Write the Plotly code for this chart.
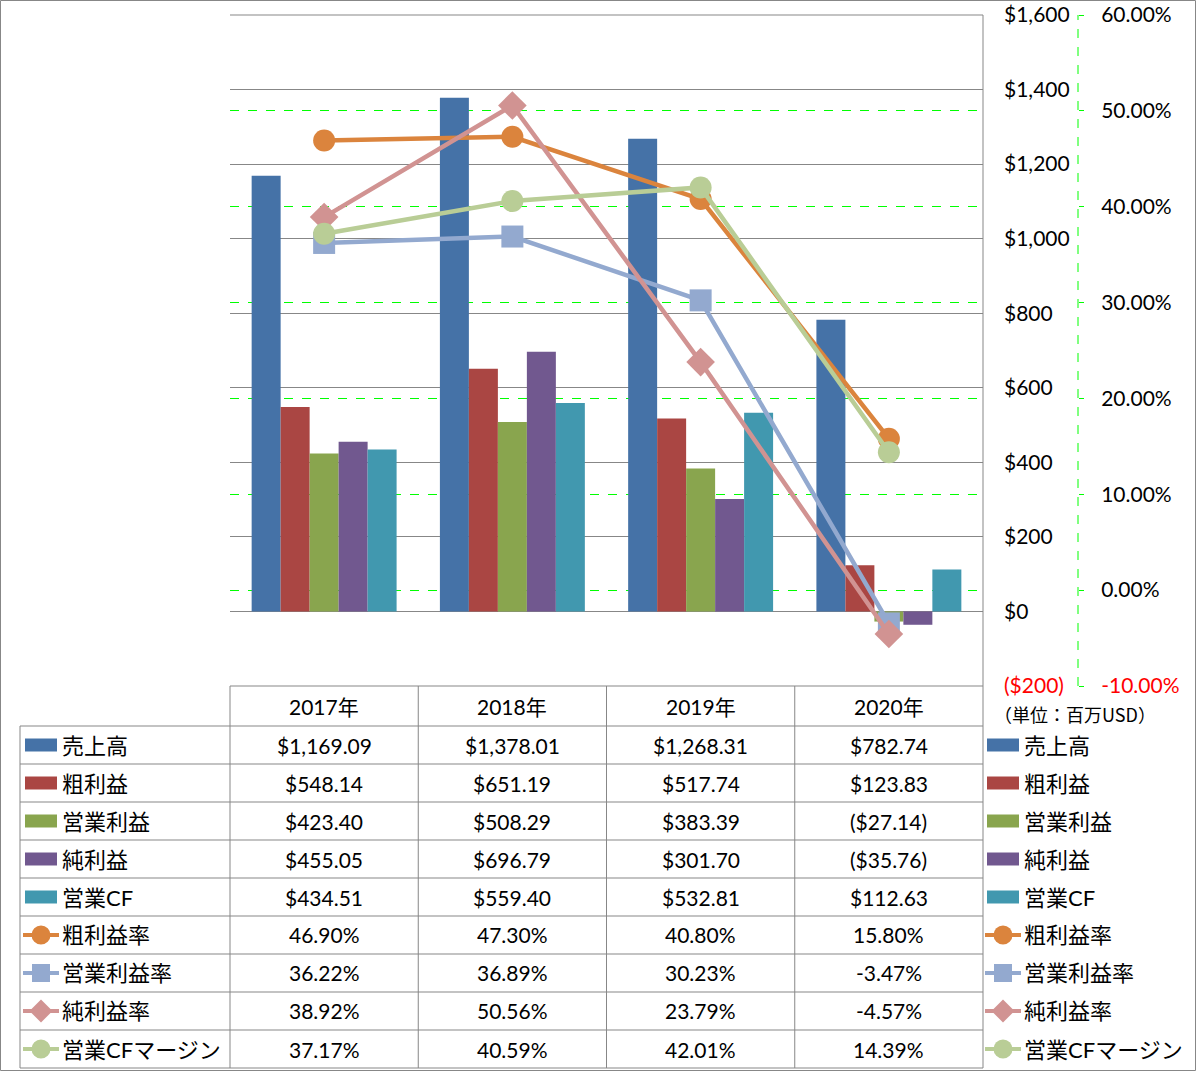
import plotly.graph_objects as go

# ---------------- data ----------------
years = ["2017年", "2018年", "2019年", "2020年"]

bar_names = ["売上高", "粗利益", "営業利益", "純利益", "営業CF"]
sales = [1169.09, 1378.01, 1268.31, 782.74]
gross_profit = [548.14, 651.19, 517.74, 123.83]
operating_income = [423.40, 508.29, 383.39, -27.14]
net_income = [455.05, 696.79, 301.70, -35.76]
operating_cf = [434.51, 559.40, 532.81, 112.63]

line_names = ["粗利益率", "営業利益率", "純利益率", "営業CFマージン"]
gross_margin = [46.90, 47.30, 40.80, 15.80]
operating_margin = [36.22, 36.89, 30.23, -3.47]
net_margin = [38.92, 50.56, 23.79, -4.57]
cf_margin = [37.17, 40.59, 42.01, 14.39]

usd_ticks = [-200, 0, 200, 400, 600, 800, 1000, 1200, 1400, 1600]
pct_ticks = [-10, 0, 10, 20, 30, 40, 50, 60]
unit_label = "（単位：百万USD）"

bar_series = [sales, gross_profit, operating_income, net_income, operating_cf]
line_series = [gross_margin, operating_margin, net_margin, cf_margin]

# ---------------- style ----------------
bar_colors = ["#4572A7", "#AA4643", "#89A54E", "#71588F", "#4198AF"]
line_colors = ["#DB843D", "#93A9CF", "#D19392", "#B9CD96"]
line_symbols = ["circle", "square", "diamond", "circle"]
GRID = "#878787"
GREEN = "#00FF00"
LAT = "Lato, 'Noto Sans CJK JP', sans-serif"
JP = "'Noto Sans CJK JP', sans-serif"

W, H = 1196, 1071
L, R, T, B = 230, 118, 15, 385
PW, PH = W - L - R, H - T - B
PLOT_RIGHT = 983
XDOM = (PLOT_RIGHT - L) / PW


def X(px):
    return (px - L) / PW


def Y(py):
    return (H - B - py) / PH


def fmt_usd(v):
    s = f"${abs(v):,.2f}"
    return f"({s})" if v < 0 else s


def fmt_pct(v):
    return f"{v:.2f}%"


def usd_tick(v):
    s = f"${abs(v):,}"
    return f'<span style="color:#FF0000">({s})</span>' if v < 0 else s


def pct_tick(v):
    s = f"{v:.2f}%"
    return f'<span style="color:#FF0000">{s}</span>' if v < 0 else s


fig = go.Figure()

for name, vals, col in zip(bar_names, bar_series, bar_colors):
    fig.add_trace(go.Bar(x=years, y=vals, name=name, marker=dict(color=col, line=dict(width=0)),
                         yaxis="y", showlegend=False))

for name, vals, col, sym in zip(line_names, line_series, line_colors, line_symbols):
    fig.add_trace(go.Scatter(x=years, y=vals, name=name, mode="lines+markers", yaxis="y2",
                             line=dict(color=col, width=4.5),
                             marker=dict(symbol=sym, size=22, color=col, line=dict(width=0)),
                             showlegend=False))

shapes = []
annotations = []


def hline(y, x0, x1, color=GRID, dash=None):
    ln = dict(color=color, width=1)
    if dash:
        ln["dash"] = dash
    shapes.append(dict(type="line", xref="paper", yref="paper", x0=x0, x1=x1, y0=y, y1=y, line=ln))


def vline(x, y0, y1, color=GRID, dash=None):
    ln = dict(color=color, width=1)
    if dash:
        ln["dash"] = dash
    shapes.append(dict(type="line", xref="paper", yref="paper", x0=x, x1=x, y0=y0, y1=y1, line=ln))


# outer border
shapes.append(dict(type="rect", xref="paper", yref="paper", x0=X(0.5), x1=X(1195.5), y0=Y(0.5), y1=Y(1070.5),
                   line=dict(color=GRID, width=1)))
# top and right plot border
hline(1, 0, XDOM)
header_top, header_bot = 686, 726
row_h = 38
n_rows = len(bar_names) + len(line_names)
row_lines = [header_bot + i * row_h for i in range(n_rows + 1)]
vline(XDOM, 1, Y(row_lines[-1]))
# secondary axis line (dashed green)
vline(1, 0, 1, color=GREEN, dash="dash")

# table grid
hline(Y(header_top), 0, XDOM)
for yl in row_lines:
    hline(Y(yl), X(20), XDOM)
vline(X(20), Y(header_bot), Y(row_lines[-1]))
ncat = len(years)
for k in range(ncat):
    vline(XDOM * k / ncat, Y(header_top), Y(row_lines[-1]))

# header
for k, yr in enumerate(years):
    annotations.append(dict(x=k, xref="x", y=Y((header_top + header_bot) / 2), yref="paper", text=yr,
                            showarrow=False, xanchor="center", yanchor="middle",
                            font=dict(family=LAT, size=21, color="#000")))

# rows
all_names = bar_names + line_names
all_vals = bar_series + line_series
for i, (name, vals) in enumerate(zip(all_names, all_vals)):
    cy = header_bot + row_h * i + row_h / 2
    fmt = fmt_usd if i < len(bar_names) else fmt_pct
    for k, v in enumerate(vals):
        annotations.append(dict(x=k, xref="x", y=Y(cy), yref="paper", text=fmt(v), showarrow=False,
                                xanchor="center", yanchor="middle", font=dict(family=LAT, size=21, color="#000")))
    for lx, tx in ((25, 60), (987, 1022)):
        annotations.append(dict(x=X(tx), xref="paper", y=Y(cy), yref="paper", text=name, showarrow=False,
                                xanchor="left", yanchor="middle", font=dict(family=LAT, size=22, color="#000")))
        if i < len(bar_names):
            shapes.append(dict(type="rect", xref="paper", yref="paper", x0=X(lx), x1=X(lx + 32),
                               y0=Y(cy - 6.5), y1=Y(cy + 6.5), fillcolor=bar_colors[i], line=dict(width=0)))
        else:
            j = i - len(bar_names)
            col = line_colors[j]
            x0 = lx - 2
            x1 = lx + 34
            mx = (x0 + x1) / 2
            shapes.append(dict(type="line", xref="paper", yref="paper", x0=X(x0), x1=X(x1), y0=Y(cy), y1=Y(cy),
                               line=dict(color=col, width=4)))
            sym = line_symbols[j]
            if sym == "circle":
                shapes.append(dict(type="circle", xref="paper", yref="paper", x0=X(mx - 9.5), x1=X(mx + 9.5),
                                   y0=Y(cy - 9.5), y1=Y(cy + 9.5), fillcolor=col, line=dict(width=0)))
            elif sym == "square":
                shapes.append(dict(type="rect", xref="paper", yref="paper", x0=X(mx - 9), x1=X(mx + 9),
                                   y0=Y(cy - 9), y1=Y(cy + 9), fillcolor=col, line=dict(width=0)))
            else:
                d = 11.5
                path = (f"M {X(mx)} {Y(cy - d)} L {X(mx + d)} {Y(cy)} L {X(mx)} {Y(cy + d)} "
                        f"L {X(mx - d)} {Y(cy)} Z")
                shapes.append(dict(type="path", xref="paper", yref="paper", path=path, fillcolor=col,
                                   line=dict(width=0)))

annotations.append(dict(x=X(1075), xref="paper", y=Y(714), yref="paper", text=unit_label, showarrow=False,
                        xanchor="center", yanchor="middle", font=dict(family=JP, size=18, color="#000")))

fig.update_layout(
    width=W, height=H,
    margin=dict(l=L, r=R, t=T, b=B, pad=0, autoexpand=False),
    paper_bgcolor="white", plot_bgcolor="white",
    barmode="group", bargap=0.23, bargroupgap=0,
    showlegend=False,
    font=dict(family=LAT, size=21, color="#000"),
    xaxis=dict(domain=[0, XDOM], range=[-0.5, len(years) - 0.5], visible=False, showticklabels=False, ticks="",
               showgrid=False, zeroline=False, showline=False, fixedrange=True, automargin=False),
    yaxis=dict(range=[usd_ticks[0], usd_ticks[-1]], side="right", anchor="x", automargin=False,
               tickmode="array", tickvals=usd_ticks, ticktext=[usd_tick(v) for v in usd_ticks],
               showgrid=True, gridcolor=GRID, gridwidth=1, zeroline=True, zerolinecolor=GRID, zerolinewidth=1,
               showline=False, ticks="", ticklabelstandoff=20,
               tickfont=dict(family=LAT, size=21, color="#000")),
    yaxis2=dict(range=[pct_ticks[0], pct_ticks[-1]], overlaying="y", side="right", anchor="free", position=1,
                automargin=False,
                tickmode="array", tickvals=pct_ticks, ticktext=[pct_tick(v) for v in pct_ticks],
                showgrid=True, gridcolor=GREEN, gridwidth=1, griddash="dash", zeroline=False,
                showline=False, ticks="outside", ticklen=5, tickcolor=GREEN, tickwidth=1,
                ticklabelstandoff=13, tickfont=dict(family=LAT, size=21, color="#000")),
    shapes=shapes,
    annotations=annotations,
)

post = ("document.body.style.margin='0';document.body.style.overflow='hidden';"
        "var gd=document.getElementById('{plot_id}');gd.style.position='absolute';"
        "gd.style.left='0px';gd.style.top='0px';")
fig.write_html("out.html", post_script=post, config={"displayModeBar": False})
